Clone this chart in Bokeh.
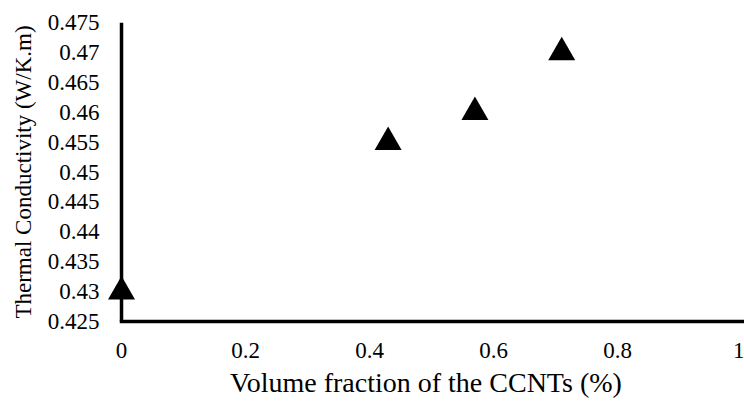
from bokeh.plotting import figure
from bokeh.models import (Range1d, FixedTicker, ColumnDataSource, Span,
                          CustomJSTickFormatter)
from bokeh.embed import file_html
from bokeh.resources import INLINE

# Thermal conductivity vs. CCNT volume fraction
volume_fraction = [0.0, 0.43, 0.57, 0.71]
conductivity = [0.43, 0.455, 0.46, 0.47]

x_ticks = [0.0, 0.2, 0.4, 0.6, 0.8, 1.0]
x_tick_labels = ["0", "0.2", "0.4", "0.6", "0.8", "1"]
y_ticks = [0.425, 0.43, 0.435, 0.44, 0.445, 0.45, 0.455, 0.46, 0.465, 0.47, 0.475]
y_tick_labels = ["0.425", "0.43", "0.435", "0.44", "0.445", "0.45",
                 "0.455", "0.46", "0.465", "0.47", "0.475"]

x_title = "Volume fraction of the CCNTs (%)"
y_title = "Thermal Conductivity (W/K.m)"

FONT = "Liberation Serif"

# The frame starts a little left of x=0 so the marker sitting on the
# vertical axis line is drawn whole; that line is a span at x=0.
X_MIN, X_MAX = -0.0226, 1.0048
Y_MIN, Y_MAX = 0.425, 0.475

p = figure(width=744, height=401, output_backend="svg", toolbar_location=None,
           x_range=Range1d(X_MIN, X_MAX), y_range=Range1d(Y_MIN, Y_MAX),
           min_border_left=107, min_border_right=0, min_border_top=22,
           min_border_bottom=80)
p.outline_line_color = None
p.xgrid.visible = False
p.ygrid.visible = False
p.background_fill_color = "white"
p.border_fill_color = "white"

p.add_layout(Span(location=0, dimension="height", line_color="black",
                  line_width=3.5))

src = ColumnDataSource(dict(x=volume_fraction, y=conductivity))
p.scatter("x", "y", source=src, marker="triangle", size=27,
          fill_color="black", line_color=None)

fmt_code = """
for (let i = 0; i < tick_values.length; i++) {
    if (Math.abs(tick_values[i] - tick) < 1e-9) return tick_labels[i];
}
return "";
"""

for ax, ticks, labels in ((p.xaxis[0], x_ticks, x_tick_labels),
                          (p.yaxis[0], y_ticks, y_tick_labels)):
    ax.ticker = FixedTicker(ticks=ticks)
    ax.formatter = CustomJSTickFormatter(
        args=dict(tick_values=ticks, tick_labels=labels), code=fmt_code)
    ax.axis_line_width = 3.5
    ax.axis_line_color = "black"
    ax.axis_line_cap = "square"
    ax.major_tick_line_color = None
    ax.minor_tick_line_color = None
    ax.major_tick_out = 0
    ax.major_tick_in = 0
    ax.major_label_text_font = FONT
    ax.major_label_text_font_size = "23px"
    ax.major_label_text_color = "black"
    ax.axis_label_text_font = FONT
    ax.axis_label_text_font_style = "normal"
    ax.axis_label_text_color = "black"

p.xaxis.bounds = (0, X_MAX)
p.xaxis.major_label_standoff = 21
p.xaxis.axis_label = x_title
p.xaxis.axis_label_text_font_size = "28px"
p.xaxis.axis_label_standoff = 6

p.yaxis.axis_line_color = None
p.yaxis.major_label_standoff = 8
p.yaxis.axis_label = y_title
p.yaxis.axis_label_text_font_size = "23px"
p.yaxis.axis_label_standoff = 9

open("out.html", "w").write(file_html(p, INLINE))
